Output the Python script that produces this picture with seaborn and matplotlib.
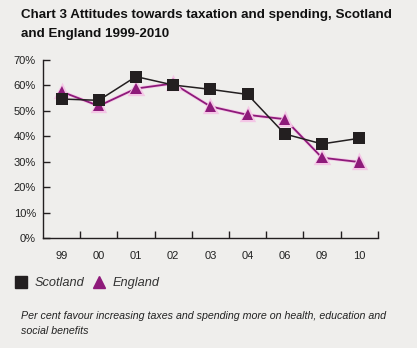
import matplotlib
matplotlib.use("Agg")
import matplotlib.pyplot as plt
import matplotlib.patheffects as pe
from matplotlib.lines import Line2D
import seaborn as sns
import pandas as pd
import numpy as np

years = ["99", "00", "01", "02", "03", "04", "06", "09", "10"]
scotland = [54.5, 54.0, 63.3, 60.0, 58.3, 56.3, 40.8, 36.9, 39.1]
england = [57.4, 51.8, 58.6, 60.6, 51.6, 48.3, 46.6, 31.5, 29.8]
y_ticks = [0, 10, 20, 30, 40, 50, 60, 70]
y_labels = ["0%", "10%", "20%", "30%", "40%", "50%", "60%", "70%"]

title = "Chart 3 Attitudes towards taxation and spending, Scotland\nand England 1999-2010"
note = ("Per cent favour increasing taxes and spending more on health, education and\n"
        "social benefits")

BG = "#efeeec"
INK = "#231f20"
PURPLE = "#8e1a7a"
HALO = "#f4c6e6"

sns.set_theme(style="white")
plt.rcParams["font.family"] = ["Liberation Sans", "DejaVu Sans"]

df = pd.DataFrame({
    "pos": list(range(len(years))) * 2,
    "value": scotland + england,
    "region": ["Scotland"] * len(years) + ["England"] * len(years),
})

fig = plt.figure(figsize=(4.17, 3.48), dpi=100, facecolor=BG)
ax = fig.add_axes([0.103, 0.316, 0.803, 0.513], facecolor=BG)

sns.lineplot(data=df[df.region == "Scotland"], x="pos", y="value", ax=ax,
             color=INK, lw=1.1, marker="s", markersize=8,
             markeredgewidth=0, zorder=3)
sns.lineplot(data=df[df.region == "England"], x="pos", y="value", ax=ax,
             color=PURPLE, lw=1.3, marker="^", markersize=8,
             markeredgewidth=0, zorder=2,
             path_effects=[pe.Stroke(linewidth=2.4, foreground=HALO), pe.Normal()])

ax.set_xlim(-0.5, len(years) - 0.5)
ax.set_ylim(0, 70)
ax.set_xlabel("")
ax.set_ylabel("")

for s in ["top", "right"]:
    ax.spines[s].set_visible(False)
for s in ["left", "bottom"]:
    ax.spines[s].set_color(INK)
    ax.spines[s].set_linewidth(1.0)

ax.set_yticks(y_ticks)
ax.set_yticklabels(y_labels)
ax.tick_params(axis="y", direction="in", length=5, width=1, color=INK,
               labelsize=8, labelcolor="#222222", pad=5, left=True)

# category labels sit between the boundary tick marks
ax.set_xticks(np.arange(0.5, len(years), 1.0))
ax.set_xticklabels([])
ax.tick_params(axis="x", which="major", direction="in", length=5, width=1,
               color=INK, bottom=True)
ax.set_xticks(np.arange(len(years)), minor=True)
ax.set_xticklabels(years, minor=True)
ax.tick_params(axis="x", which="minor", length=0, labelsize=8,
               labelcolor="#222222", pad=9)

fig.text(21 / 417, 1 - 9 / 348, title, ha="left", va="top", fontsize=9.6,
         fontweight="bold", color="#111111", linespacing=1.75)

handles = [
    Line2D([], [], color=INK, marker="s", linestyle="none", markersize=8),
    Line2D([], [], color=PURPLE, marker="^", linestyle="none", markersize=8),
]
leg = fig.legend(handles, ["Scotland", "England"], loc="center left",
                 bbox_to_anchor=(3 / 417, 1 - 283 / 348), ncol=2, frameon=False,
                 handlelength=1.0, handletextpad=0.55, columnspacing=0.7,
                 prop={"size": 9.2, "style": "italic"})
for t in leg.get_texts():
    t.set_color("#333333")

fig.text(21 / 417, 1 - 311 / 348, note, ha="left", va="top", fontsize=7.7,
         style="italic", color="#222222", linespacing=1.65)

fig.savefig("out.png", dpi=100, facecolor=BG)
